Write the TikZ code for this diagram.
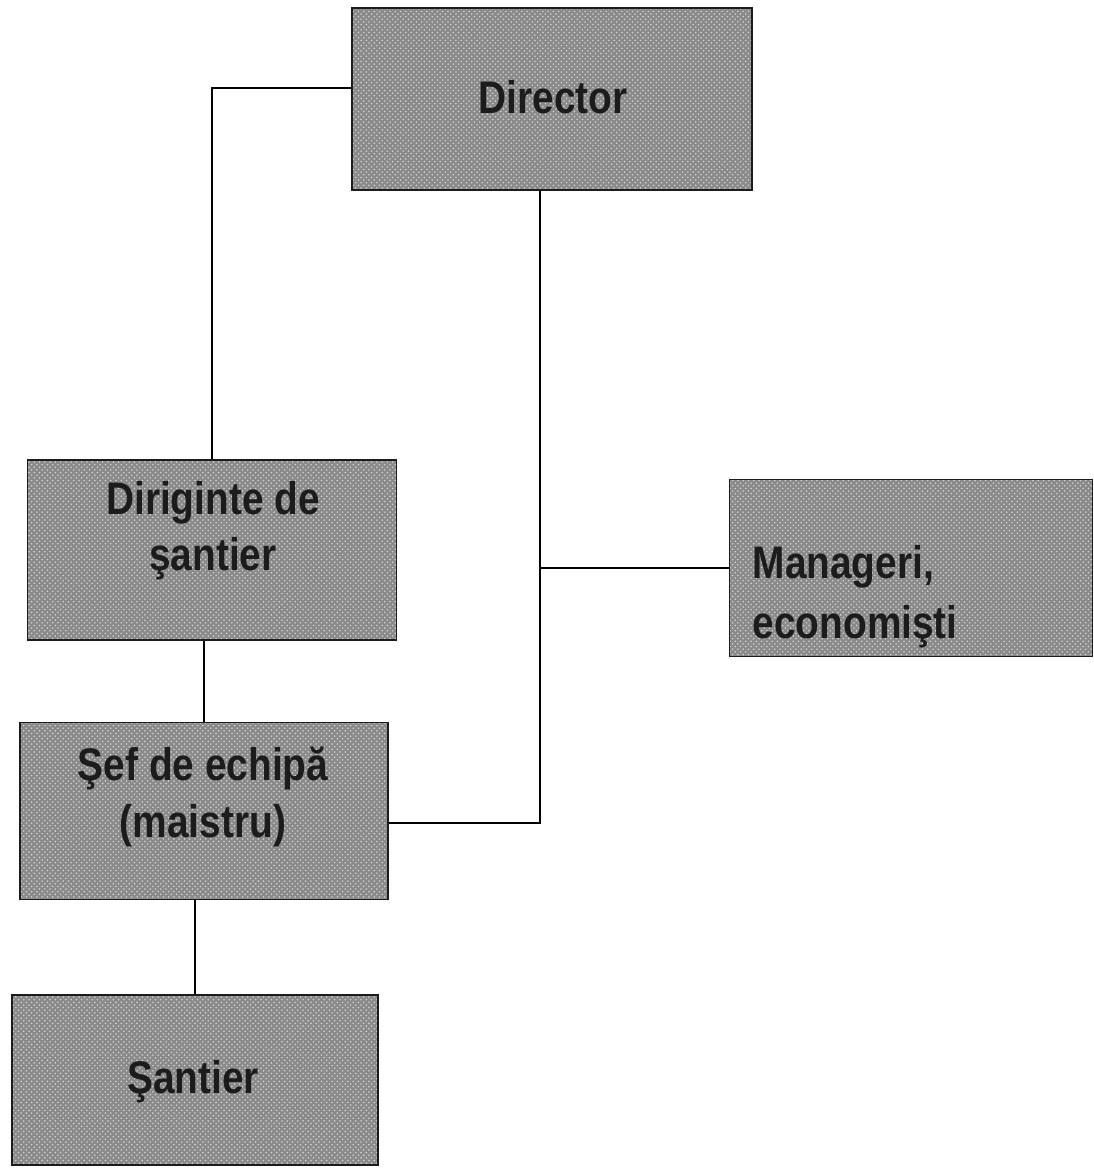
\documentclass[tikz,border=0pt]{standalone}
\usepackage{fontspec}
\setmainfont{Liberation Sans}
\usepackage{graphicx}
\usetikzlibrary{patterns}
\definecolor{boxgray}{RGB}{138,138,138}
\definecolor{ink}{RGB}{28,28,28}
\newcommand{\narrowline}[1]{\scalebox{0.85}[1]{#1}}
\begin{document}
\begin{tikzpicture}[x=0.02cm, y=-0.02cm, line width=0.8pt,
  unit/.style={draw=ink, line width=1pt, preaction={fill=boxgray},
    pattern=crosshatch dots, pattern color=gray!35, inner sep=0pt},
  caption/.style={text=ink, font=\bfseries\fontsize{26}{32}\selectfont, inner sep=0pt}]
  \useasboundingbox (0,0) rectangle (1094,1171);
  % boxes
  \node[unit, minimum width=8cm, minimum height=3.64cm] (director) at (552,99) {};
  \node[unit, minimum width=7.38cm, minimum height=3.6cm] (diriginte) at (212,550) {};
  \node[unit, minimum width=7.26cm, minimum height=3.54cm] (manageri) at (911,568) {};
  \node[unit, minimum width=7.36cm, minimum height=3.54cm] (sef) at (204,811) {};
  \node[unit, minimum width=7.32cm, minimum height=3.4cm] (santier) at (195,1080) {};
  % texts
  \node[caption] (directortext) at (553,97) {\narrowline{Director}};
  \node[caption, align=center] (dirigintetext) at (213,531) {\narrowline{Diriginte de}\\\narrowline{şantier}};
  \node[caption, align=left, anchor=west] (managertext) at (752,597) {\narrowline{Manageri,}\\[2pt]\narrowline{economişti}};
  \node[caption, align=center] (seftext) at (203,797) {\narrowline{Şef de echipă}\\\narrowline{(maistru)}};
  \node[caption] (santiertext) at (193,1082) {\narrowline{Şantier}};
  % links
  \coordinate (bus) at (540,568);
  \coordinate (seftap) at ([yshift=-0.24cm]sef.east);
  \draw ([yshift=0.22cm]director.west) -| (diriginte.north);
  \draw (director.south -| bus) |- (seftap);
  \draw (bus) -- (manageri.west);
  \draw (diriginte.south -| sef.north) -- (sef.north);
  \draw (santier.north |- sef.south) -- (santier.north);
\end{tikzpicture}
\end{document}
